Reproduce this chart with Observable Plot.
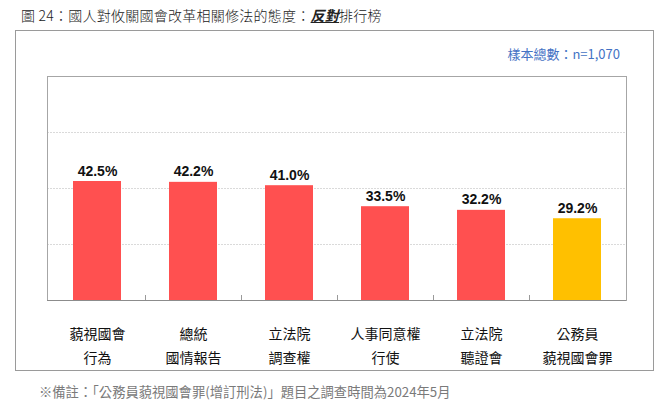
<!DOCTYPE html>
<html>
<head>
<meta charset="utf-8">
<script src="https://cdn.jsdelivr.net/npm/d3@7"></script>
<script src="https://cdn.jsdelivr.net/npm/@observablehq/plot@0.6"></script>
<style>
  html, body { margin: 0; padding: 0; background: #fff; }
  body { width: 669px; height: 405px; position: relative; overflow: hidden;
         font-family: "Noto Sans CJK TC", "Noto Sans", sans-serif; }
  #title { position: absolute; left: 21px; top: 5px; font-size: 14px; letter-spacing: 0.25px;
           color: #222; font-weight: 300; white-space: nowrap; }
  #title .em { font-weight: 700; font-style: italic; text-decoration: underline; }
  #box { position: absolute; left: 15px; top: 30px; width: 639px; height: 341px;
         border: 1px solid #9a9a9a; box-sizing: border-box; }
  #n { position: absolute; right: 49px; top: 44px; font-size: 13px; color: #4472C4; white-space: nowrap; }
  #chart { position: absolute; left: 0; top: 60px; }
  #note { position: absolute; left: 39px; top: 382px; font-size: 13.3px; color: #7a7a7a; white-space: nowrap; }
</style>
</head>
<body>
<div id="title">圖 24：國人對攸關國會改革相關修法的態度：<span class="em">反對</span>排行榜</div>
<div id="box"></div>
<div id="n">樣本總數：n=1,070</div>
<div id="chart"></div>
<div id="note">※備註：「公務員藐視國會罪(增訂刑法)」題目之調查時間為2024年5月</div>
<script>
const categories = ["藐視國會\n行為", "總統\n國情報告", "立法院\n調查權", "人事同意權\n行使", "立法院\n聽證會", "公務員\n藐視國會罪"];
const values = [42.5, 42.2, 41.0, 33.5, 32.2, 29.2];
const barColors = ["#FF5050", "#FF5050", "#FF5050", "#FF5050", "#FF5050", "#FFC000"];
const gridTicks = [20, 40, 60];

const data = categories.map((c, i) => ({cat: c, value: values[i], color: barColors[i]}));

// small tick marks at band boundaries (inside, pointing up)
function bandTicks(index, scales, values, dimensions) {
  const x = scales.x, y = scales.y;
  const bw = typeof x.bandwidth === "function" ? x.bandwidth() : 0;
  const centers = categories.map(c => x(c) + bw / 2);
  const y0 = y(0);
  const g = d3.create("svg:g").attr("stroke", "#9a9a9a").attr("stroke-width", 1);
  for (let i = 0; i < centers.length - 1; i++) {
    const bx = Math.round((centers[i] + centers[i + 1]) / 2) + 0.5;
    g.append("line").attr("x1", bx).attr("x2", bx).attr("y1", y0).attr("y2", y0 - 5);
  }
  return g.node();
}

const chart = Plot.plot({
  width: 669,
  height: 310,
  marginTop: 16,
  marginBottom: 70,
  marginLeft: 47,
  marginRight: 43,
  style: {fontFamily: "\"Noto Sans CJK TC\", sans-serif", background: "transparent"},
  x: {domain: categories, paddingInner: 0.5, paddingOuter: 0.25, label: null},
  y: {domain: [0, 80], label: null},
  marks: [
    Plot.gridY(gridTicks, {stroke: "#dadada", strokeOpacity: 1, strokeDasharray: "2,1"}),
    Plot.barY(data, {x: "cat", y: "value", fill: "color"}),
    Plot.frame({stroke: "#a6a6a6"}),
    Plot.ruleY([0], {stroke: "#8c8c8c"}),
    bandTicks,
    Plot.text(data, {x: "cat", y: "value", text: d => d.value.toFixed(1) + "%",
      lineAnchor: "bottom", dy: -6, fontSize: 14, fontWeight: "bold",
      fontFamily: "\"Liberation Sans\", Arial, sans-serif", fill: "#111"}),
    Plot.axisX({tickSize: 0, tickPadding: 21, fontSize: 14, lineHeight: 1.72,
      fontWeight: 400, fill: "#111", label: null}),
    Plot.axisY({ticks: []})
  ]
});
document.getElementById("chart").append(chart);
</script>
</body>
</html>
